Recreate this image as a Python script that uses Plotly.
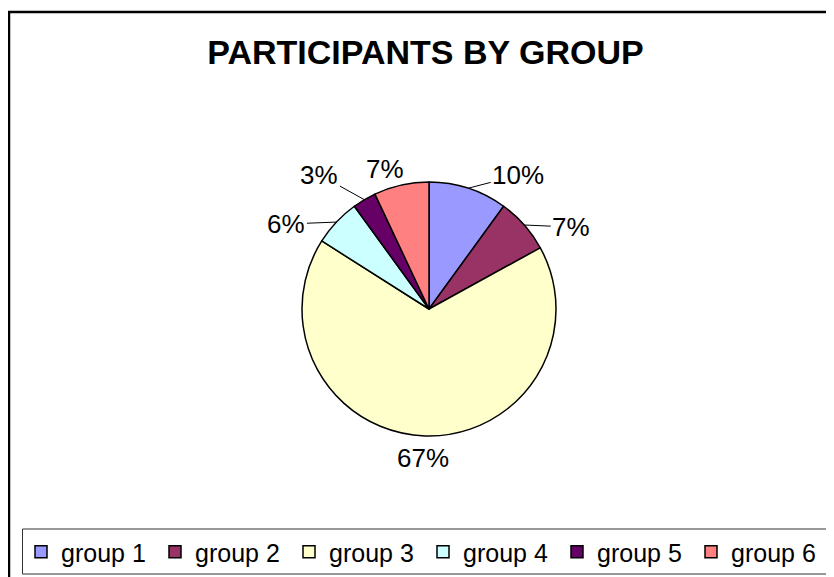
import math
import plotly.graph_objects as go

groups = ["group 1", "group 2", "group 3", "group 4", "group 5", "group 6"]
shares = [10, 7, 67, 6, 3, 7]
colors = ["#9999FF", "#993366", "#FFFFCC", "#CCFFFF", "#660066", "#FF8080"]

# label placement (style): pixel offsets of each percent label from its slice edge, and leader visibility
label_dx = [50, 47, -2, -50, -45, -16]
label_dy = [-13, 2, 22, 2, -25, -16]
leader = [True, True, False, True, True, False]

W, H = 834, 577
OFF = 8  # page body margin


def px(x):
    return (x - OFF) / W


def py(y):
    return 1 - (y - OFF) / H


cx, cy, r = 429, 309, 127

fig = go.Figure(go.Pie(
    labels=groups,
    values=shares,
    sort=False,
    direction="clockwise",
    rotation=0,
    marker=dict(colors=colors, line=dict(color="black", width=1.5)),
    textinfo="none",
    domain=dict(x=[px(cx - r), px(cx + r)], y=[py(cy + r), py(cy - r)]),
    hoverinfo="label+percent",
))

total = sum(shares)
annotations = []
cum = 0
for i, v in enumerate(shares):
    theta = 2 * math.pi * (cum + v / 2) / total
    cum += v
    ex = cx + r * math.sin(theta)
    ey = cy - r * math.cos(theta)
    pct = f"{round(100 * v / total)}%"
    annotations.append(dict(
        x=px(ex), y=py(ey), xref="paper", yref="paper",
        text=pct, showarrow=True, arrowhead=0, arrowwidth=1,
        arrowcolor="black" if leader[i] else "rgba(0,0,0,0)",
        ax=label_dx[i], ay=label_dy[i], standoff=0,
        font=dict(family="Arial", size=26, color="black"),
    ))

fig.update_layout(
    width=W, height=H,
    margin=dict(l=0, r=0, t=0, b=0),
    paper_bgcolor="white",
    plot_bgcolor="white",
    title=dict(text="<b>PARTICIPANTS BY GROUP</b>", font=dict(family="Arial", size=34, color="black"),
               x=px(425.5), xanchor="center", y=py(52), yanchor="middle", yref="container"),
    legend=dict(orientation="h", x=px(21), xanchor="left", y=py(552), yanchor="middle",
                font=dict(family="Arial", size=25, color="black"),
                entrywidth=89, entrywidthmode="pixels", bgcolor="rgba(0,0,0,0)", traceorder="normal"),
    annotations=annotations,
    shapes=[
        dict(type="rect", xref="paper", yref="paper", x0=px(9), x1=1.05, y0=-0.05, y1=py(12),
             line=dict(color="black", width=2.5), fillcolor="rgba(0,0,0,0)", layer="below"),
        dict(type="rect", xref="paper", yref="paper", x0=px(22.5), x1=px(828), y0=py(574), y1=py(529),
             line=dict(color="#333333", width=1), fillcolor="rgba(0,0,0,0)", layer="below"),
    ],
)

fig.write_html("out.html")
